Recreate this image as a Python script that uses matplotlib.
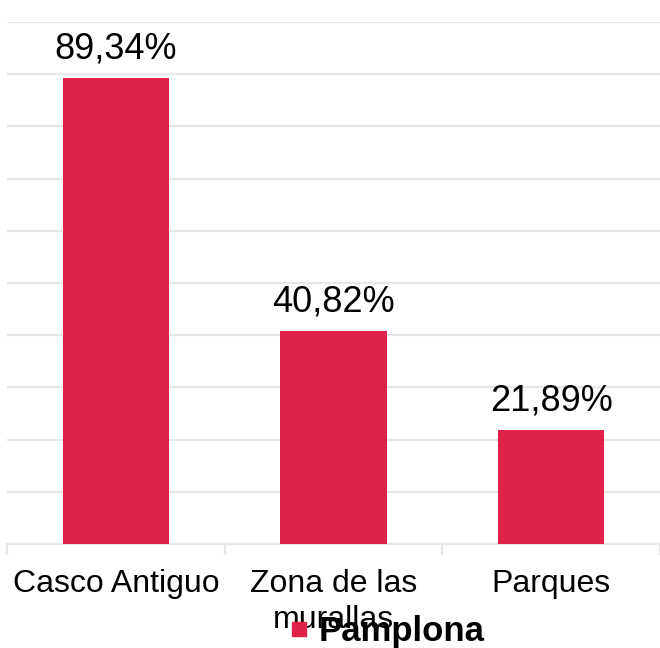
import matplotlib
matplotlib.use("Agg")
import matplotlib.pyplot as plt
from matplotlib.lines import Line2D

categories = ["Casco Antiguo", "Zona de las\nmurallas", "Parques"]
values = [89.34, 40.82, 21.89]
value_labels = ["89,34%", "40,82%", "21,89%"]
series_name = "Pamplona"
bar_color = "#E0224A"
grid_color = "#E6E6E6"

plt.rcParams['font.family'] = ['Liberation Sans', 'DejaVu Sans']

fig = plt.figure(figsize=(6.6, 6.48), dpi=100)
ax = fig.add_axes([7/660, 1 - 544/648, 1 - 7/660, (544 - 22)/648])

x = list(range(len(categories)))
bars = ax.bar(x, values, width=0.49, color=bar_color, zorder=3)
ax.set_xlim(-0.5, len(categories) - 0.5)
ax.set_ylim(0, 100)
ax.set_yticks(range(0, 101, 10))
ax.yaxis.grid(True, color=grid_color, linewidth=1.6, zorder=0)
ax.tick_params(axis='y', length=0, labelleft=False)

for s in ['top', 'right', 'left']:
    ax.spines[s].set_visible(False)
ax.spines['bottom'].set_color(grid_color)
ax.spines['bottom'].set_linewidth(1.6)

# boundary ticks (major) and centered labels (minor)
ax.set_xticks([i - 0.5 for i in range(len(categories) + 1)])
ax.tick_params(axis='x', which='major', length=8, width=1.6, color=grid_color, labelbottom=False)
ax.set_xticks(x, minor=True)
ax.set_xticklabels(categories, minor=True, fontsize=23, linespacing=1.25)
ax.tick_params(axis='x', which='minor', length=0, pad=18)

for xi, v, lab in zip(x, values, value_labels):
    ax.annotate(lab, (xi, v), xytext=(0, 8), textcoords='offset points',
                ha='center', va='bottom', fontsize=26)

handle = Line2D([], [], marker='s', linestyle='none', markersize=10,
                markerfacecolor=bar_color, markeredgecolor=bar_color)
fig.legend([handle], [series_name], loc='center', bbox_to_anchor=(0.586, 0.025),
           frameon=False, prop={'size': 25, 'weight': 'bold'},
           handletextpad=0.25, borderpad=0, handlelength=0.6)

fig.savefig("out.png", dpi=100)
